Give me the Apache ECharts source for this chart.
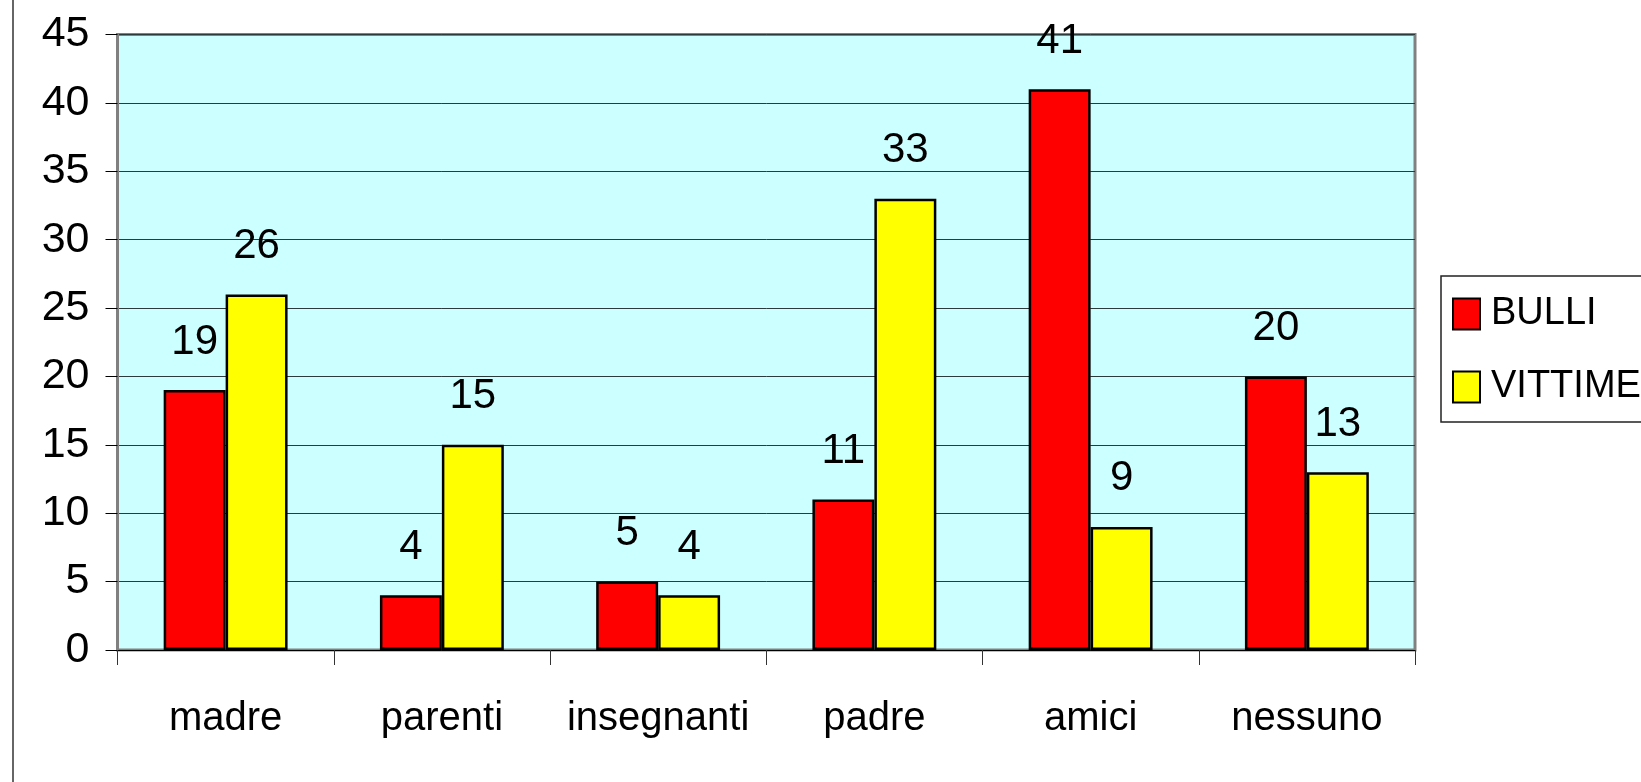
<!DOCTYPE html>
<html>
<head>
<meta charset="utf-8">
<script src="https://cdn.jsdelivr.net/npm/echarts@6/dist/echarts.min.js"></script>
<style>
html,body{margin:0;padding:0;background:#fff;}
#c{width:1641px;height:782px;}
</style>
</head>
<body>
<div id="c"></div>
<script>
var categories = ['madre', 'parenti', 'insegnanti', 'padre', 'amici', 'nessuno'];
var bulli = [19, 4, 5, 11, 41, 20];
var vittime = [26, 15, 4, 33, 9, 13];
var seriesNames = ['BULLI', 'VITTIME'];
var yMin = 0, yMax = 45, yStep = 5;

var FONT = '"Liberation Sans", Arial, sans-serif';

var chart = echarts.init(document.getElementById('c'), null, {renderer: 'canvas'});
var labelStyle = {
  show: true, position: 'top', distance: 27,
  fontFamily: FONT, fontSize: 42, color: '#000'
};
chart.setOption({
  animation: false,
  backgroundColor: '#fff',
  grid: {
    left: 117.5, top: 34.5, right: 226, bottom: 132,
    show: true, backgroundColor: '#CCFFFF', borderColor: '#808080', borderWidth: 3
  },
  legend: {
    orient: 'vertical', left: 1441, top: 276,
    padding: [19, 30, 16, 11],
    itemWidth: 27, itemHeight: 31, itemGap: 35,
    borderColor: '#222', borderWidth: 1.5,
    icon: 'rect',
    textStyle: {fontFamily: FONT, fontSize: 38, color: '#000', lineHeight: 31, padding: [0, 0, 0, 6]},
    data: seriesNames
  },
  xAxis: {
    type: 'category', data: categories, boundaryGap: true,
    axisLine: {show: true, lineStyle: {color: '#000', width: 1}},
    axisTick: {show: true, length: 15, lineStyle: {color: '#333', width: 1}},
    axisLabel: {fontFamily: FONT, fontSize: 40, color: '#000', margin: 49, interval: 0}
  },
  yAxis: {
    type: 'value', min: yMin, max: yMax, interval: yStep,
    axisLine: {show: true, lineStyle: {color: '#808080', width: 2}},
    axisTick: {show: true, length: 12, lineStyle: {color: '#000', width: 1}},
    splitLine: {show: true, lineStyle: {color: '#2b3a3a', width: 1}},
    axisLabel: {fontFamily: FONT, fontSize: 43, color: '#000', margin: 28}
  },
  graphic: [{
    type: 'line', shape: {x1: 13, y1: 0, x2: 13, y2: 782},
    style: {stroke: '#333', lineWidth: 1.5}, z: 100
  }],
  series: [{
    name: seriesNames[0], type: 'bar', data: bulli,
    barGap: '0%', barCategoryGap: '42.7%',
    itemStyle: {color: '#FF0000', borderColor: '#000', borderWidth: 2.5},
    label: labelStyle
  }, {
    name: seriesNames[1], type: 'bar', data: vittime,
    barGap: '0%', barCategoryGap: '42.7%',
    itemStyle: {color: '#FFFF00', borderColor: '#000', borderWidth: 2.5},
    label: labelStyle
  }]
});
</script>
</body>
</html>
